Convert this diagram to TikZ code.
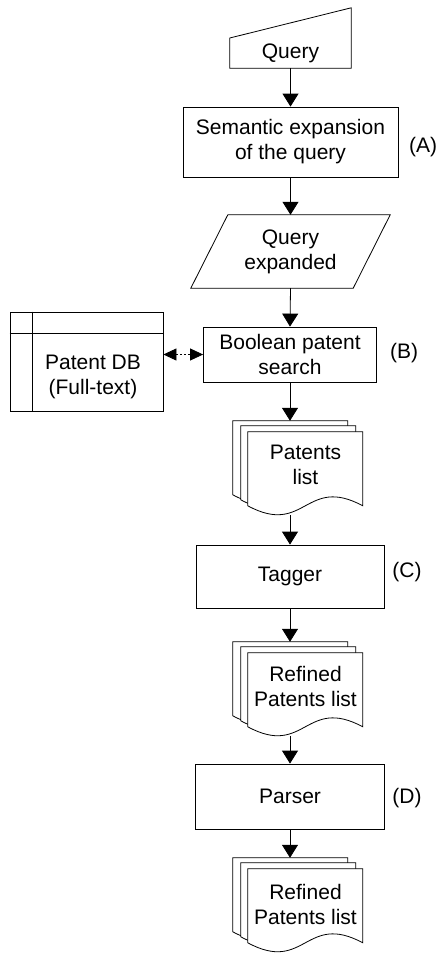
\documentclass[tikz,border=0pt]{standalone}
\usepackage{fontspec}
\setmainfont{Liberation Sans}
\usetikzlibrary{arrows.meta}
\newcommand\stackdocs[1]{%
  \foreach \dx/\dy in {0/0,8/5,15/11}{%
    \begin{scope}[shift={(#1.north west)}, shift={(\dx,\dy)}]
      \draw[sheet] (0,0) -- (115,0) -- (115,74) .. controls (57.5,43) and (57.5,105) .. (0,74) -- cycle;
    \end{scope}}}
\begin{document}
\begin{tikzpicture}[x=1pt,y=-1pt,
  every node/.style={font=\fontsize{21}{25}\selectfont, align=center, inner sep=0pt},
  box/.style={draw, line width=0.8pt, fill=white},
  ghost/.style={draw=none, inner sep=0pt},
  flow/.style={line width=0.8pt, -{Triangle[length=13pt,width=16pt]}},
  link/.style={line width=0.8pt, dash pattern=on 2pt off 2pt, {Triangle[length=13pt,width=12pt]}-{Triangle[length=13pt,width=12pt]}},
  sheet/.style={draw, line width=0.8pt, fill=white}]
\useasboundingbox (0,0) rectangle (438,953);

% Query (manual input)
\node[ghost, minimum width=121pt, minimum height=60pt] (q) at (290.5,38) {};
\draw[box] (q.south west) -- (q.west) -- (q.north east) -- (q.south east) -- cycle;
\node (qt) at (290.5,53) {Query};

% Semantic expansion
\node[box, minimum width=215pt, minimum height=70pt] (sem) at (290.5,142) {Semantic expansion\\of the query};
\node (la) at (423,147) {(A)};

% Query expanded (parallelogram)
\node[ghost, minimum width=199pt, minimum height=73pt] (qe) at (290.5,251.5) {};
\draw[box] (qe.south west) -- ([xshift=37pt]qe.north west) -- (qe.north east) -- ([xshift=-37pt]qe.south east) -- cycle;
\node (qet) at (290.5,252) {Query\\expanded};

% Boolean search
\node[box, minimum width=173pt, minimum height=55pt] (bool) at (290,354.5) {Boolean patent\\search};
\node (lb) at (404,353) {(B)};

% Patent DB
\node[box, minimum width=153pt, minimum height=99pt] (db) at (86.5,361.5) {};
\draw[line width=0.8pt] ([xshift=23pt]db.north west) -- ([xshift=23pt]db.south west);
\draw[line width=0.8pt] ([yshift=-22pt]db.north west) -- ([yshift=-22pt]db.north east);
\node (dbt) at (93,377) {Patent DB\\(Full-text)};
\draw[link] (db.east |- bool.west) -- (bool.west);

% Patents list
\node[ghost, minimum width=115pt, minimum height=94pt] (d1) at (290.5,468) {};
\stackdocs{d1}
\node (d1t) at (305.5,465) {Patents\\list};

% Tagger
\node[box, minimum width=188pt, minimum height=63pt] (tag) at (290,576.5) {Tagger};
\node (lc) at (407,572) {(C)};

% Refined list 1
\node[ghost, minimum width=115pt, minimum height=94pt] (d2) at (290.5,689) {};
\stackdocs{d2}
\node (d2t) at (305.5,686) {Refined\\Patents list};

% Parser
\node[box, minimum width=189pt, minimum height=65pt] (par) at (290,796.5) {Parser};
\node (ld) at (407,798) {(D)};

% Refined list 2
\node[ghost, minimum width=115pt, minimum height=94pt] (d3) at (290.5,905) {};
\stackdocs{d3}
\node (d3t) at (305.5,904) {Refined\\Patents list};

% connectors
\draw[flow] (q.south) -- (sem.north);
\draw[flow] (sem.south) -- (qe.north);
\draw[flow] (qe.south) -- (bool.north);
\draw[flow] (bool.south) -- (bool.south |- d1.north);
\draw[flow] (d1.south -| tag.north) -- (tag.north);
\draw[flow] (tag.south) -- (tag.south |- d2.north);
\draw[flow] (d2.south -| par.north) -- (par.north);
\draw[flow] (par.south) -- (par.south |- d3.north);
\end{tikzpicture}
\end{document}
